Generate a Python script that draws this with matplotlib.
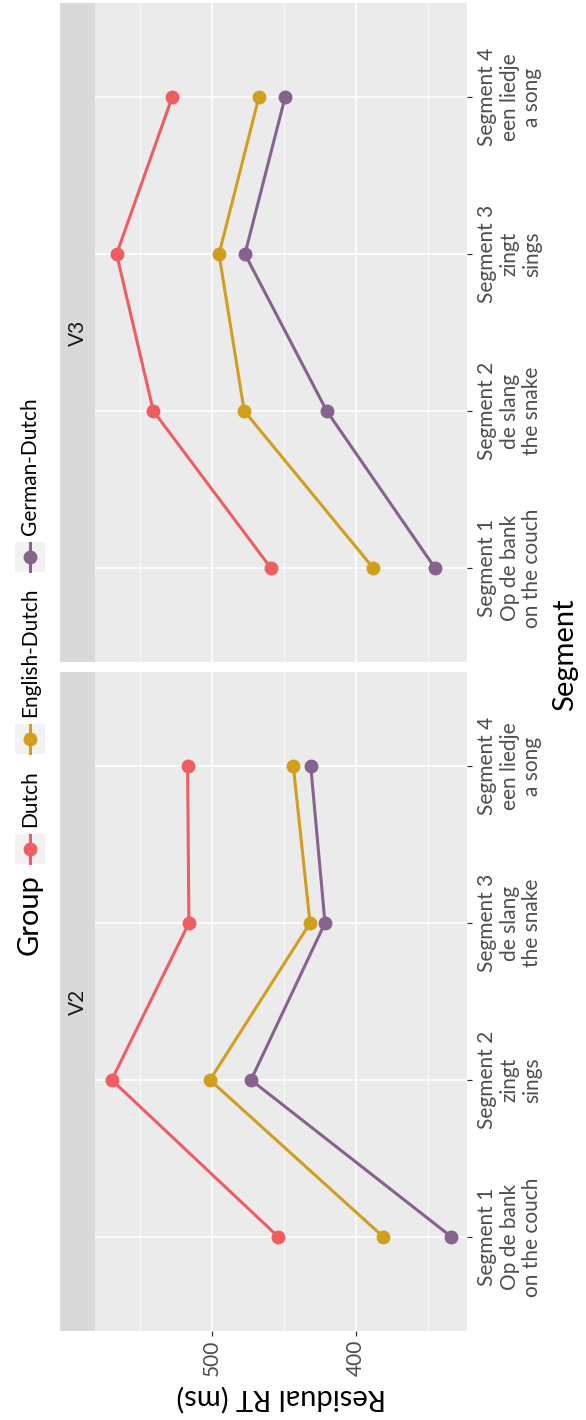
import matplotlib
matplotlib.use("Agg")
import matplotlib.pyplot as plt
from matplotlib.lines import Line2D
from matplotlib.patches import Rectangle

plt.rcParams['font.family'] = ['Lato', 'DejaVu Sans']

W, H, DPI = 586, 1420, 100

# ---- data -------------------------------------------------------------
segments = [1, 2, 3, 4]
labels_v2 = ["Segment 1\nOp de bank\non the couch", "Segment 2\nzingt\nsings",
             "Segment 3\nde slang\nthe snake", "Segment 4\neen liedje\na song"]
labels_v3 = ["Segment 1\nOp de bank\non the couch", "Segment 2\nde slang\nthe snake",
             "Segment 3\nzingt\nsings", "Segment 4\neen liedje\na song"]

groups = ["Dutch", "English-Dutch", "German-Dutch"]
colors = ["#EE5E60", "#D29E1E", "#87628F"]

v2_dutch = [453.7, 569.4, 515.8, 516.7]
v2_english = [380.8, 501.2, 431.7, 443.3]
v2_german = [333.5, 472.7, 421.3, 431.2]

v3_dutch = [459.0, 540.5, 566.0, 527.4]
v3_english = [387.9, 477.4, 494.9, 467.2]
v3_german = [345.0, 420.1, 476.9, 449.0]

rt_major = [400, 500]
rt_minor = [350, 450, 550]

# ---- layout helpers (pixel coordinates, origin top-left) ---------------
def fx(x):
    return x / W

def fy(y):
    return 1 - y / H

TICK_FS = 15
TITLE_FS = 21
TICK_COL = "#4D4D4D"

fig = plt.figure(figsize=(W / DPI, H / DPI), dpi=DPI)
fig.patch.set_facecolor("white")

PANEL_L, PANEL_R = 95, 467
STRIP_L = 60
panels = [("V3", 3, 662, labels_v3, [v3_dutch, v3_english, v3_german], False),
          ("V2", 672, 1331, labels_v2, [v2_dutch, v2_english, v2_german], True)]

for name, top, bot, seg_labels, series, show_rt in panels:
    ax = fig.add_axes([fx(PANEL_L), fy(bot), fx(PANEL_R - PANEL_L), (bot - top) / H])
    ax.set_facecolor("#EBEBEB")
    for s in ax.spines.values():
        s.set_visible(False)
    ax.set_xlim(581, 322.7)
    ax.set_ylim(0.4, 4.6)
    ax.set_xticks(rt_major)
    ax.set_xticks(rt_minor, minor=True)
    ax.set_yticks(segments)
    ax.grid(True, which="major", color="white", linewidth=1.2)
    ax.grid(True, which="minor", axis="x", color="white", linewidth=0.55)
    ax.set_axisbelow(True)

    ax.yaxis.tick_right()
    ax.set_yticklabels(seg_labels, rotation=90, ha="left", va="center",
                       multialignment="center", fontsize=TICK_FS, color=TICK_COL,
                       linespacing=1.15)
    ax.tick_params(axis="y", which="major", length=3.5, width=0.9,
                   color="#333333", pad=4)
    if show_rt:
        ax.set_xticklabels([str(v) for v in rt_major], rotation=90,
                           fontsize=TICK_FS, color=TICK_COL, ha="center", va="top")
        ax.tick_params(axis="x", which="major", length=3.5, width=0.9,
                       color="#333333", pad=3)
    else:
        ax.tick_params(axis="x", which="major", length=0, labelbottom=False)
    ax.tick_params(axis="x", which="minor", length=0)

    for vals, col in zip(series, colors):
        ax.plot(vals, segments, color=col, linewidth=2.2, marker="o",
                markersize=9, solid_capstyle="round", zorder=3)

    # facet strip
    sax = fig.add_axes([fx(STRIP_L), fy(bot), fx(PANEL_L - STRIP_L), (bot - top) / H])
    sax.set_facecolor("#D9D9D9")
    sax.set_xticks([])
    sax.set_yticks([])
    for s in sax.spines.values():
        s.set_visible(False)
    sax.text(0.5, 0.5, name, rotation=90, ha="center", va="center",
             fontsize=TICK_FS, color="#1A1A1A", transform=sax.transAxes)

# ---- axis titles --------------------------------------------------------
fig.text(fx(565), fy(655), "Segment", rotation=90, ha="center", va="center",
         fontsize=TITLE_FS, color="black")
fig.text(fx(281), fy(1398), "Residual RT (ms)", rotation=180, ha="center",
         va="center", fontsize=TITLE_FS, color="black")

# ---- legend (laid out upward from its lower end) -------------------------
renderer = fig.canvas.get_renderer()
LX = 30
KEY = 30
pos = 955  # lower end of the legend, pixels from top
title = fig.text(fx(LX), fy(pos), "Group", rotation=90, ha="center", va="bottom",
                 fontsize=TITLE_FS, color="black")
pos -= title.get_window_extent(renderer).height + 10
for g, col in zip(groups, colors):
    ky = pos - KEY / 2
    fig.add_artist(Rectangle((fx(LX - KEY / 2), fy(ky + KEY / 2)), fx(KEY), KEY / H,
                             transform=fig.transFigure, facecolor="#F2F2F2",
                             edgecolor="none"))
    fig.add_artist(Line2D([fx(LX), fx(LX)], [fy(ky + KEY / 2 - 1), fy(ky - KEY / 2 + 1)],
                          transform=fig.transFigure, color=col, linewidth=2.2))
    fig.add_artist(Line2D([fx(LX)], [fy(ky)], transform=fig.transFigure,
                          color=col, marker="o", markersize=9, linestyle="none"))
    pos -= KEY + 7
    t = fig.text(fx(LX), fy(pos), g, rotation=90, ha="center", va="bottom",
                 fontsize=TICK_FS, color="black")
    pos -= t.get_window_extent(renderer).height + 16

fig.savefig("out.png", dpi=DPI, facecolor="white")
